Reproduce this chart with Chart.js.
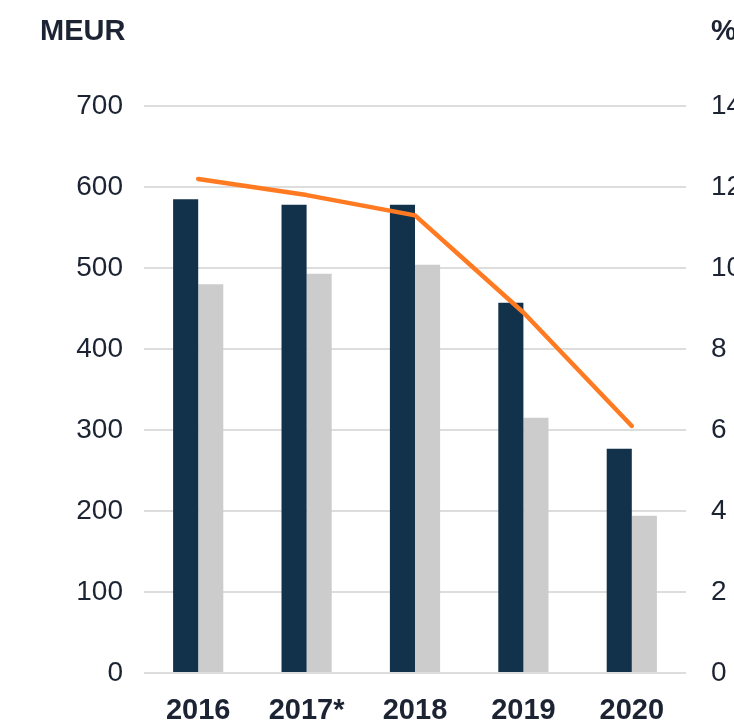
<!DOCTYPE html>
<html>
<head>
<meta charset="utf-8">
<script src="https://cdn.jsdelivr.net/npm/chart.js@4"></script>
<style>
  html, body { margin: 0; padding: 0; background: #fff; overflow: hidden; }
  #wrap { position: relative; width: 780px; height: 724px; }
  .unit { position: absolute; top: 14px; font: bold 29px "Liberation Sans", Arial, sans-serif; color: #1c2333; }
</style>
</head>
<body>
<div id="wrap">
  <canvas id="chart" width="780" height="724"></canvas>
  <div class="unit" style="left:40px">MEUR</div>
  <div class="unit" style="left:711px">%</div>
</div>
<script>
// data
const years = ['2016', '2017*', '2018', '2019', '2020'];
const darkBars = [585, 578, 578, 457, 277];
const greyBars = [480, 493, 504, 315, 194];
const percentLine = [12.2, 11.8, 11.3, 8.9, 6.1];

const textColor = '#1c2333';
const fontFamily = '"Liberation Sans", Arial, sans-serif';

let ctx = document.getElementById('chart').getContext('2d');
new Chart(ctx, {
    type: 'bar',
    data: {
        labels: years,
        datasets: [{
            type: 'line',
            data: percentLine,
            yAxisID: 'y1',
            borderColor: '#ff7a21',
            borderWidth: 4.5,
            borderCapStyle: 'round',
            borderJoinStyle: 'round',
            pointRadius: 0,
            tension: 0,
            order: 0
        }, {
            data: darkBars,
            yAxisID: 'y',
            backgroundColor: '#12324b',
            categoryPercentage: 0.463,
            barPercentage: 1,
            order: 1
        }, {
            data: greyBars,
            yAxisID: 'y',
            backgroundColor: '#cccccc',
            categoryPercentage: 0.463,
            barPercentage: 1,
            order: 1
        }]
    },
    options: {
        responsive: false,
        animation: false,
        layout: { padding: { top: 106, right: 0, left: 0, bottom: 0 } },
        plugins: { legend: { display: false }, tooltip: { enabled: false } },
        scales: {
            x: {
                grid: { display: false },
                border: { display: false },
                ticks: { color: textColor, padding: 13, font: { family: fontFamily, size: 29, weight: 'bold' } },
                afterFit: function (scale) { scale.height = 51; }
            },
            y: {
                position: 'left',
                min: 0,
                max: 700,
                ticks: { stepSize: 100, color: textColor, padding: 21, font: { family: fontFamily, size: 28 } },
                grid: { color: '#dddddd', lineWidth: 2, drawTicks: false },
                border: { display: false },
                afterFit: function (scale) { scale.width = 144; }
            },
            y1: {
                position: 'right',
                min: 0,
                max: 14,
                ticks: { stepSize: 2, color: textColor, padding: 25, font: { family: fontFamily, size: 28 } },
                grid: { display: false, drawTicks: false },
                border: { display: false },
                afterFit: function (scale) { scale.width = 94; }
            }
        }
    }
});
</script>
</body>
</html>
